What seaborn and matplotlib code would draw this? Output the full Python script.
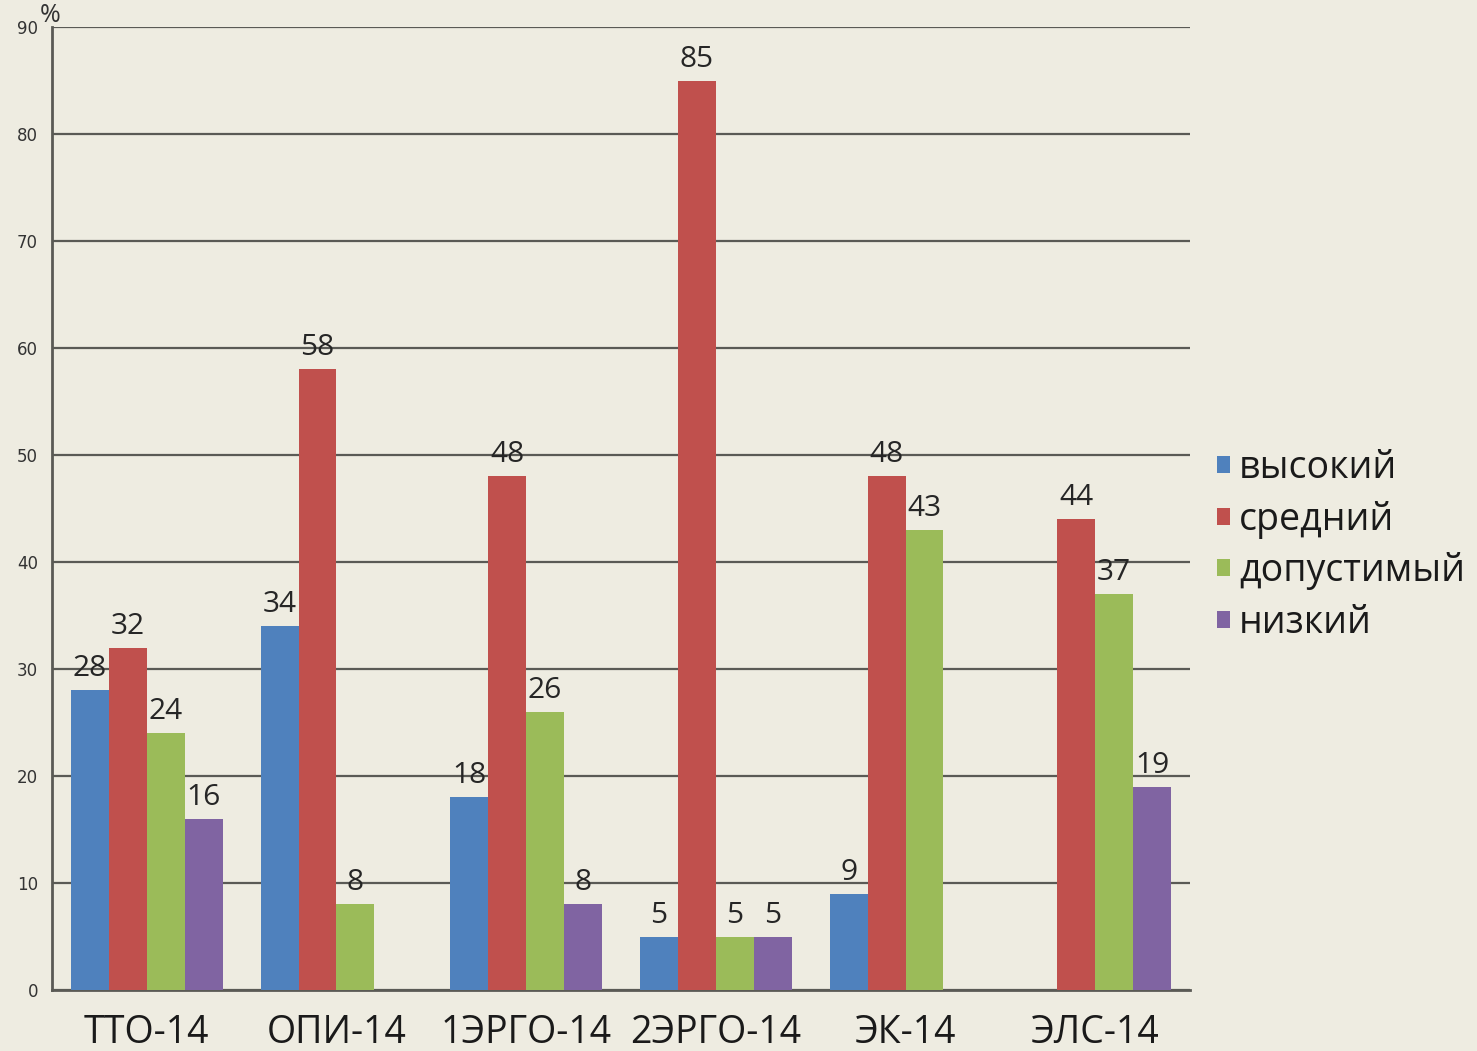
import numpy as np
import pandas as pd
import matplotlib
matplotlib.use("Agg")
import matplotlib.pyplot as plt
import seaborn as sns
from matplotlib.patches import Patch

# ---- data ----
groups = ["ТТО-14", "ОПИ-14", "1ЭРГО-14", "2ЭРГО-14", "ЭК-14", "ЭЛС-14"]
levels = ["высокий", "средний", "допустимый", "низкий"]
vysokiy = [28, 34, 18, 5, 9, np.nan]
sredniy = [32, 58, 48, 85, 48, 44]
dopustimyy = [24, 8, 26, 5, 43, 37]
nizkiy = [16, np.nan, 8, 5, np.nan, 19]
yticks = [0, 10, 20, 30, 40, 50, 60, 70, 80, 90]
colors = ["#4F81BD", "#C0504D", "#9BBB59", "#8064A2"]

series = {levels[0]: vysokiy, levels[1]: sredniy, levels[2]: dopustimyy, levels[3]: nizkiy}
rows = []
for lev, vals in series.items():
    for g, v in zip(groups, vals):
        rows.append({"group": g, "level": lev, "value": v})
df = pd.DataFrame(rows).dropna()

# ---- style ----
sns.set_theme(style="white")
bg = "#EEECE1"
plt.rcParams["font.family"] = ["Open Sans", "DejaVu Sans"]

fig = plt.figure(figsize=(14.77, 10.51), dpi=100, facecolor=bg)
ax = fig.add_axes([0.0352, 0.058, 0.7705, 0.9163])
ax.set_facecolor(bg)

sns.barplot(data=df, x="group", y="value", hue="level", order=groups,
            hue_order=levels, palette=colors, saturation=1, width=0.8,
            errorbar=None, ax=ax, zorder=3, legend=False, linewidth=0,
            edgecolor="none")

for c in ax.containers:
    ax.bar_label(c, fmt="{:.0f}", padding=5, fontsize=21.5, color="#262626")

ax.set_ylim(0, 90)
ax.set_xlim(-0.5, len(groups) - 0.5)
ax.set_yticks(yticks)
ax.set_yticklabels([str(t) for t in yticks], fontsize=12, color="#333333",
                   family="DejaVu Sans")
ax.yaxis.grid(True, color="#5a5a55", linewidth=1.6, zorder=0)
ax.set_axisbelow(True)
ax.tick_params(axis="y", length=0, pad=10)
ax.tick_params(axis="x", length=0, pad=17, labelsize=27, labelcolor="#1a1a1a")
ax.set_xlabel("")
ax.set_ylabel("")
for s in ["top", "right"]:
    ax.spines[s].set_visible(False)
ax.spines["left"].set_color("#5a5a55")
ax.spines["left"].set_linewidth(2)
ax.spines["bottom"].set_color("#5a5a55")
ax.spines["bottom"].set_linewidth(2)

fig.text(0.034, 0.985, "%", fontsize=18, color="#333333", ha="center", va="center")

handles = [Patch(facecolor=c, edgecolor="none", label=l) for c, l in zip(colors, levels)]
fig.legend(handles=handles, loc="center left", bbox_to_anchor=(0.824, 0.481),
           bbox_transform=fig.transFigure, frameon=False, fontsize=27,
           handlelength=0.34, handleheight=0.34, handletextpad=0.25,
           labelspacing=0.36, borderpad=0, borderaxespad=0, labelcolor="#1a1a1a")

fig.savefig("out.png", dpi=100, facecolor=bg)
